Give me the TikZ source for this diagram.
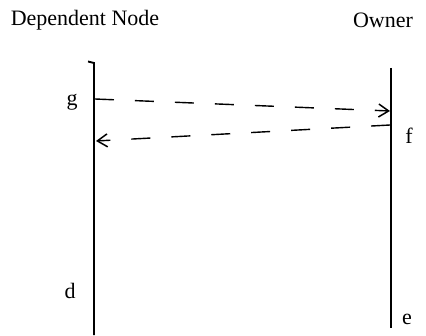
\documentclass[tikz,border=0pt]{standalone}
\usepackage{fontspec}
\setmainfont{Liberation Serif}
\usetikzlibrary{arrows.meta}
\begin{document}
\begin{tikzpicture}[x=1pt,y=1pt,
  lbl/.style={font=\fontsize{22}{26}\selectfont, inner sep=0pt},
  life/.style={line width=1.9pt},
  msg/.style={line width=1.4pt, dash pattern=on 19pt off 21pt, -{Straight Barb[length=10pt,width=13pt,line width=1.5pt]}}]
\useasboundingbox (0,0) rectangle (426,335);
% headers
\node[lbl] (dep) at (85,315) {Dependent Node};
\node[lbl] (own) at (383,315) {Owner};
% lifelines
\coordinate (lhook) at (88,273.5);
\coordinate (ltop) at (94,272);
\coordinate (lbot) at (94,0);
\coordinate (rtop) at (391,267);
\coordinate (rbot) at (391,7);
\draw[life] (lhook) -- (ltop) -- (lbot);
\draw[life] (rtop) -- (rbot);
% event labels
\node[lbl] (g) at (72,233) {g};
\node[lbl] (f) at (409,199) {f};
\node[lbl] (d) at (70,44) {d};
\node[lbl] (e) at (407,16) {e};
% messages
\coordinate (m1s) at (95,236);
\coordinate (m1e) at (390,224);
\coordinate (m2s) at (390,210);
\coordinate (m2e) at (96,194);
\draw[msg] (m1s) -- (m1e);
\draw[msg] (m2s) -- (m2e);
\end{tikzpicture}
\end{document}
